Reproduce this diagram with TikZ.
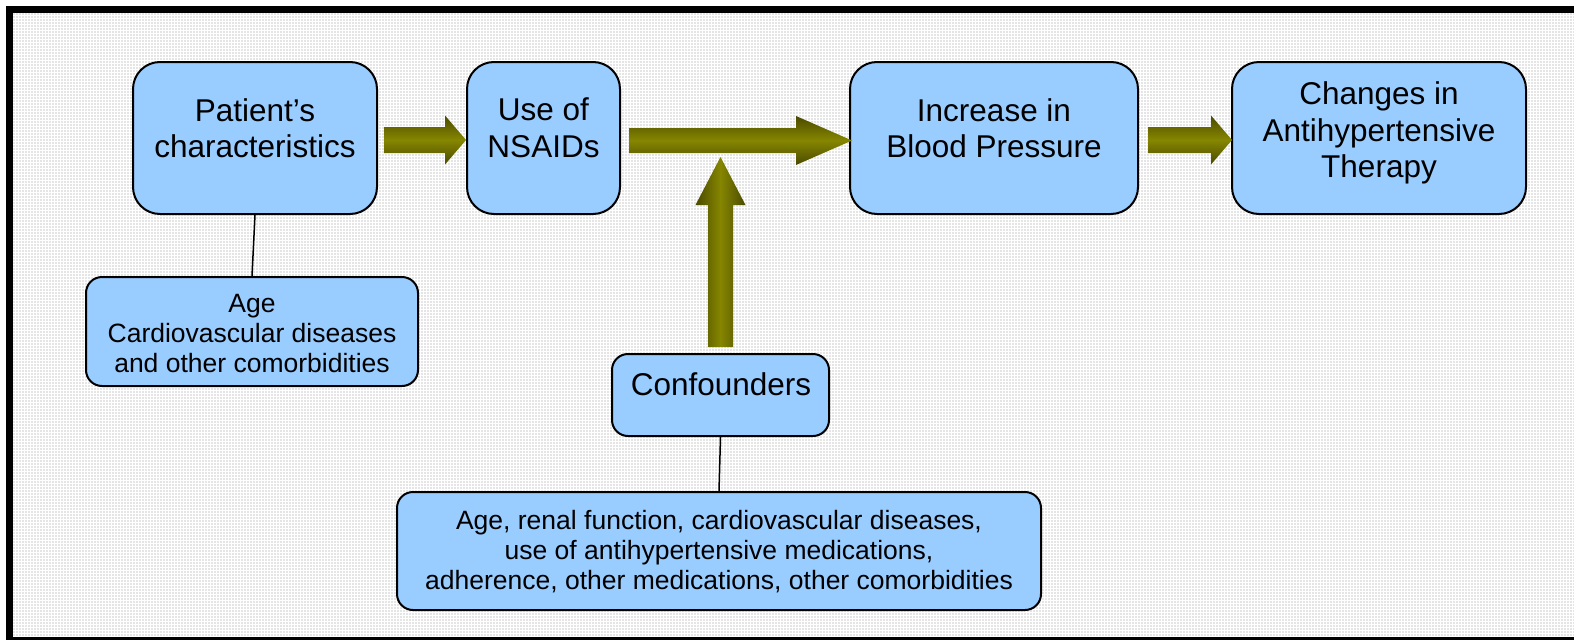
\documentclass[tikz,border=0pt]{standalone}
\usepackage{fontspec}
\setmainfont{Liberation Sans}
\usetikzlibrary{calc}

\definecolor{boxblue}{HTML}{99CCFF}
\definecolor{olivemid}{HTML}{868600}
\definecolor{olivedark}{HTML}{4A4A00}
\definecolor{panel}{gray}{0.90}

\tikzset{
  bigbox/.style={draw=black, line width=2pt, fill=boxblue, rounded corners=27pt, inner sep=0pt},
  smallbox/.style={draw=black, line width=2pt, fill=boxblue, rounded corners=16pt, inner sep=0pt},
  bigtext/.style={font=\fontsize{31.5}{36.5}\selectfont, align=center, inner sep=0pt},
  smalltext/.style={font=\fontsize{26.5}{30}\selectfont, align=center, inner sep=0pt},
  link/.style={draw=black, line width=1.5pt},
  hshade/.style={top color=olivedark, bottom color=olivedark, middle color=olivemid},
  vshade/.style={left color=olivedark, right color=olivedark, middle color=olivemid},
}

\begin{document}
\begin{tikzpicture}[x=1pt,y=-1pt]
\useasboundingbox (0,0) rectangle (1574,640);

% page frame and textured panel
\fill[white] (0,0) rectangle (1574,640);
\fill[black] (6,6) rectangle (1574,640);
\fill[panel] (13,13) rectangle (1574,636);
\draw[white, line width=0.8pt, step=3pt] (13,13) grid (1574,636);

% main chain of boxes
\node[bigbox, minimum width=244pt, minimum height=152pt] (pc) at (255,138) {};
\node[bigtext] (pctext) at (255,128) {Patient’s\\characteristics};

\node[bigbox, minimum width=153pt, minimum height=152pt] (nsaid) at (543.5,138) {};
\node[bigtext] (nsaidtext) at (543.5,128) {Use of\\NSAIDs};

\node[bigbox, minimum width=288pt, minimum height=152pt] (bp) at (994,138) {};
\node[bigtext] (bptext) at (994,128) {Increase in\\Blood Pressure};

\node[bigbox, minimum width=294pt, minimum height=152pt] (ch) at (1379,138) {};
\node[bigtext] (chtext) at (1379,133) {Changes in\\Antihypertensive\\Therapy};

% detail boxes
\node[smallbox, minimum width=332pt, minimum height=109pt] (age) at (252,331.5) {};
\node[smalltext] (agetext) at (252,333.5) {Age\\Cardiovascular diseases\\and other comorbidities};

\node[smallbox, minimum width=217pt, minimum height=82pt] (conf) at (720.5,395) {};
\node[bigtext] (conftext) at (721,384) {Confounders};

\node[smallbox, minimum width=644pt, minimum height=118pt] (cb) at (719,551) {};
\node[smalltext] (cbtext) at (719,552) {Age, renal function, cardiovascular diseases,\\use of antihypertensive medications,\\adherence, other medications, other comorbidities};

% plain links to the detail boxes
\draw[link] (pc.south) -- (age.north);
\draw[link] (conf.south) -- (cb.north);

% block arrows
\coordinate (a1s) at ($(pc.east)+(6,2)$);
\coordinate (a1e) at ($(nsaid.west)+(0,2)$);
\shade[hshade] ($(a1s)+(0,-13)$) -- ($(a1e)+(-21,-13)$) -- ($(a1e)+(-21,-24.5)$) -- (a1e)
  -- ($(a1e)+(-21,24.5)$) -- ($(a1e)+(-21,13)$) -- ($(a1s)+(0,13)$) -- cycle;

\coordinate (a2s) at ($(nsaid.east)+(8,2.5)$);
\coordinate (a2e) at ($(bp.west)+(3,2.5)$);
\shade[hshade] ($(a2s)+(0,-12.5)$) -- ($(a2e)+(-56,-12.5)$) -- ($(a2e)+(-56,-24.5)$) -- (a2e)
  -- ($(a2e)+(-56,24.5)$) -- ($(a2e)+(-56,12.5)$) -- ($(a2s)+(0,12.5)$) -- cycle;

\coordinate (a3s) at ($(bp.east)+(9,2)$);
\coordinate (a3e) at ($(ch.west)+(1,2)$);
\shade[hshade] ($(a3s)+(0,-13)$) -- ($(a3e)+(-21,-13)$) -- ($(a3e)+(-21,-24.5)$) -- (a3e)
  -- ($(a3e)+(-21,24.5)$) -- ($(a3e)+(-21,13)$) -- ($(a3s)+(0,13)$) -- cycle;

\coordinate (a4s) at ($(conf.north)+(0,-6)$);
\coordinate (a4e) at ($(conf.north)+(0,-196)$);
\shade[vshade] ($(a4s)+(-12.5,0)$) -- ($(a4e)+(-12.5,48)$) -- ($(a4e)+(-25,48)$) -- (a4e)
  -- ($(a4e)+(25,48)$) -- ($(a4e)+(12.5,48)$) -- ($(a4s)+(12.5,0)$) -- cycle;
\end{tikzpicture}
\end{document}
